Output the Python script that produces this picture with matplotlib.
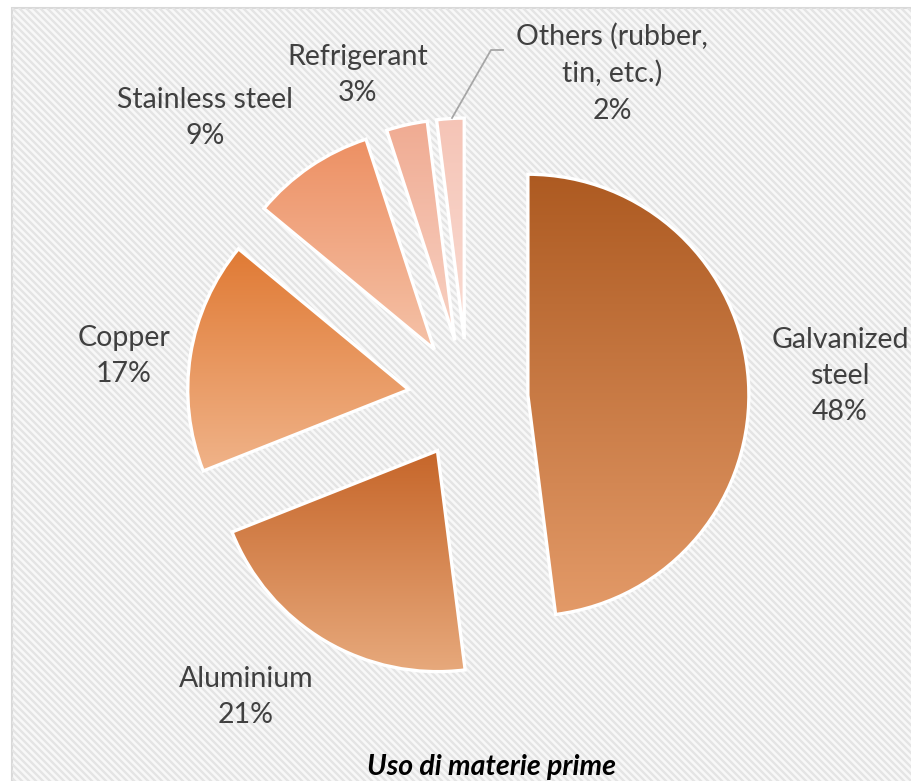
import numpy as np
import matplotlib
matplotlib.use("Agg")
import matplotlib.pyplot as plt
from matplotlib.colors import LinearSegmentedColormap
from matplotlib.collections import LineCollection
from matplotlib.patches import Rectangle

plt.rcParams['font.family'] = ['Lato', 'DejaVu Sans']

# data
categories = ['Galvanized\nsteel', 'Aluminium', 'Copper', 'Stainless steel',
              'Refrigerant', 'Others (rubber,\ntin, etc.)']
shares = [48, 21, 17, 9, 3, 2]
title = 'Uso di materie prime'

# gradient colours (top, bottom) for each slice
grad_top = ['#ad5a21', '#c6662a', '#e07a34', '#ed9063', '#f0ab92', '#f5c4b6']
grad_bot = ['#e39a68', '#e7a97c', '#f0b389', '#f5c2a8', '#f8d2c4', '#fadcd3']

# layout (pixel space, y measured from the top)
W, H = 912, 781
center = (468, H - 399)
radius = 221
explode = 60
label_pos = [(840, 376), (246, 697), (124, 356), (205, 118), (358, 75), (612, 73)]

fig = plt.figure(figsize=(W / 100, H / 100), dpi=100)
ax = fig.add_axes([0, 0, 1, 1])

# background panel with diagonal stripes
panel = Rectangle((12, -20), W + 40, H - 8 + 20, facecolor='#f8f8f8',
                  edgecolor='#d9d9d9', linewidth=1.5, zorder=0)
ax.add_patch(panel)
cs = np.arange(-20, W + H + 40, 7)
segs = [[(c - H - 40, H + 40), (c + 40, -40)] for c in cs]
stripes = LineCollection(segs, colors='#e4e4e4', linewidths=1.7, zorder=0.5)
ax.add_collection(stripes)
stripes.set_clip_path(panel)

wedges, _ = ax.pie(shares, startangle=90, counterclock=False, radius=radius,
                   center=center, explode=[explode] * len(shares),
                   wedgeprops=dict(facecolor='none', edgecolor='white',
                                   linewidth=2.4, zorder=3))

grad = np.linspace(0, 1, 256).reshape(-1, 1)
for w, c1, c2 in zip(wedges, grad_top, grad_bot):
    ext = w.get_path().get_extents()
    cmap = LinearSegmentedColormap.from_list('g', [c1, c2])
    im = ax.imshow(grad, cmap=cmap, extent=[ext.x0, ext.x1, ext.y0, ext.y1],
                   origin='upper', aspect='auto', zorder=2, interpolation='bilinear')
    im.set_clip_path(w)

for name, v, (px, py) in zip(categories, shares, label_pos):
    ax.text(px, H - py, f'{name}\n{v}%', ha='center', va='center',
            multialignment='center', fontsize=20.5, color='#404040',
            linespacing=1.5, zorder=5)

# leader line for the small slice
ax.plot([452, 491, 503], [H - 118, H - 50, H - 50], color='#a6a6a6', lw=1.3, zorder=4)

ax.text(492, H - 775, title, ha='center', va='baseline', fontsize=20.5,
        fontweight='bold', fontstyle='italic', color='black', zorder=5)

ax.set_xlim(0, W)
ax.set_ylim(0, H)
ax.set_aspect('auto')
ax.axis('off')

fig.savefig('out.png', dpi=100)
